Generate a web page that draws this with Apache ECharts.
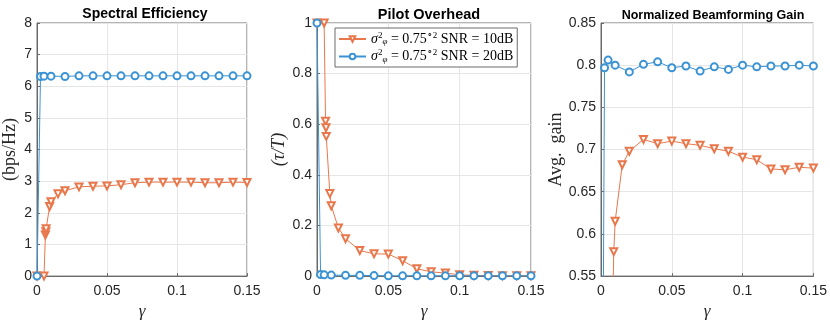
<!doctype html>
<html>
<head>
    <meta charset="UTF-8">
    <title>Spectral efficiency / pilot overhead / beamforming gain</title>
    <script src="https://cdn.jsdelivr.net/npm/echarts@6/dist/echarts.min.js"></script>
</head>
<body style="margin: 0">
<div id="main" style="width: 830px; height: 325px;"></div>
<script type="text/javascript">
    // gamma values (x) for the two curves
    var gammaA = [0, 0.005, 0.006, 0.0063, 0.0065, 0.009, 0.01, 0.015, 0.02, 0.03, 0.04, 0.05, 0.06, 0.07, 0.08, 0.09, 0.10, 0.11, 0.12, 0.13, 0.14, 0.15];
    var gammaB = [0, 0.0025, 0.005, 0.01, 0.02, 0.03, 0.04, 0.05, 0.06, 0.07, 0.08, 0.09, 0.10, 0.11, 0.12, 0.13, 0.14, 0.15];

    // SNR = 10dB (orange)
    var seA = [0, 0, 1.3, 1.4, 1.5, 2.2, 2.35, 2.6, 2.7, 2.82, 2.84, 2.85, 2.89, 2.95, 2.97, 2.97, 2.97, 2.97, 2.95, 2.95, 2.97, 2.96];
    var poA = [1, 1, 0.612, 0.586, 0.552, 0.326, 0.278, 0.19, 0.148, 0.101, 0.088, 0.087, 0.061, 0.029, 0.017, 0.012, 0.005, 0.003, 0.002, 0.001, 0.001, 0.001];
    var gainA = [0, 0, 0.3, 0.32, 0.35, 0.579, 0.615, 0.682, 0.698, 0.712, 0.707, 0.710, 0.707, 0.705, 0.701, 0.698, 0.691, 0.688, 0.677, 0.676, 0.679, 0.678];

    // SNR = 20dB (blue)
    var seB = [0, 6.31, 6.32, 6.32, 6.31, 6.33, 6.33, 6.33, 6.33, 6.33, 6.33, 6.33, 6.33, 6.33, 6.33, 6.33, 6.33, 6.33];
    var poB = [1, 0.006, 0.005, 0.004, 0.003, 0.003, 0.002, 0.001, 0.001, 0.001, 0.001, 0.001, 0.001, 0.001, 0.001, 0.001, 0.001, 0.001];
    var gainB = [0, 0.797, 0.806, 0.800, 0.792, 0.801, 0.804, 0.797, 0.799, 0.793, 0.798, 0.795, 0.800, 0.798, 0.799, 0.799, 0.800, 0.799];

    var titles = ['Spectral Efficiency', 'Pilot Overhead', 'Normalized Beamforming Gain'];
    var yNames = ['(bps/Hz)', '(\u03c4/T)', 'Avg.  gain'];
    var nameA = 'SNR = 10dB';
    var nameB = 'SNR = 20dB';

    function pairs(xs, ys) {
        var out = [];
        for (var i = 0; i < xs.length; i++) {
            out.push([xs[i], ys[i]]);
        }
        return out;
    }

    var orange = '#e8784c';
    var blue = '#3b93d4';
    var axisColor = '#262626';
    var frameColor = '#6a6a6a';
    var lefts = [33, 317, 601];

    var grids = [], xAxes = [], yAxes = [], series = [], titleList = [];
    var yRanges = [[0, 8, 1], [0, 1, 0.2], [0.55, 0.85, 0.05]];
    var dataA = [seA, poA, gainA];
    var dataB = [seB, poB, gainB];
    var titleSizes = [14, 14.5, 12.5];
    var nameGaps = [18, 25, 30];

    for (var k = 0; k < 3; k++) {
        grids.push({
            left: lefts[k], top: 23, width: 214, height: 257,
            show: true, borderColor: frameColor, borderWidth: 1, backgroundColor: '#fff'
        });
        titleList.push({
            text: titles[k],
            left: lefts[k] + 107,
            textAlign: 'center',
            top: k == 2 ? 4 : 2,
            textStyle: {
                fontFamily: 'Liberation Sans',
                fontWeight: 'bold',
                fontSize: titleSizes[k],
                color: '#000'
            }
        });
        xAxes.push({
            gridIndex: k,
            type: 'value',
            min: 0, max: 0.15, interval: 0.05,
            name: '\u03b3',
            nameLocation: 'middle',
            nameGap: 25,
            nameTextStyle: {fontFamily: 'Liberation Serif', fontStyle: 'italic', fontSize: 17, color: axisColor},
            axisLine: {lineStyle: {color: frameColor}},
            axisTick: {inside: true, length: 3, lineStyle: {color: frameColor}},
            axisLabel: {fontFamily: 'Liberation Sans', fontSize: 14, color: axisColor, margin: 8},
            splitLine: {show: true, lineStyle: {color: '#e6e6e6'}}
        });
        yAxes.push({
            gridIndex: k,
            type: 'value',
            min: yRanges[k][0], max: yRanges[k][1], interval: yRanges[k][2],
            name: yNames[k],
            nameLocation: 'middle',
            nameRotate: 90,
            nameGap: nameGaps[k],
            nameTextStyle: {
                fontFamily: 'Liberation Serif',
                fontStyle: k == 1 ? 'italic' : 'normal',
                fontSize: 18, color: axisColor
            },
            axisLine: {lineStyle: {color: frameColor}},
            axisTick: {inside: true, length: 3, lineStyle: {color: frameColor}},
            axisLabel: {fontFamily: 'Liberation Sans', fontSize: 14, color: axisColor, margin: 5},
            splitLine: {show: true, lineStyle: {color: '#e6e6e6'}}
        });
        series.push({
            name: nameA,
            type: 'line',
            xAxisIndex: k, yAxisIndex: k,
            data: pairs(gammaA, dataA[k]),
            symbol: 'emptyTriangle',
            symbolRotate: 180,
            symbolSize: 7,
            color: orange,
            lineStyle: {width: 1, color: orange},
            itemStyle: {color: orange, borderWidth: 0.8},
            clip: true,
            animation: false
        });
        series.push({
            name: nameB,
            type: 'line',
            xAxisIndex: k, yAxisIndex: k,
            data: pairs(gammaB, dataB[k]),
            symbol: 'emptyCircle',
            symbolSize: 7,
            color: blue,
            lineStyle: {width: 1, color: blue},
            itemStyle: {color: blue, borderWidth: 0.8},
            clip: true,
            animation: false
        });
    }

    var myChart = echarts.init(document.getElementById('main'));
    var option = {
        backgroundColor: '#fff',
        title: titleList,
        grid: grids,
        xAxis: xAxes,
        yAxis: yAxes,
        legend: {
            data: [nameA, nameB],
            orient: 'vertical',
            left: 335, top: 28,
            backgroundColor: '#fff',
            borderColor: frameColor,
            borderWidth: 1,
            padding: [3, 4, 3, 3],
            itemGap: 2,
            itemWidth: 27,
            itemHeight: 7,
            formatter: function (name) {
                var snr = name == nameA ? '10dB' : '20dB';
                return '{m|\u03c3}{sup|2}{sub|\u03c6}{t| = 0.75}{sup|\u22182}{t| SNR = ' + snr + '}';
            },
            textStyle: {
                rich: {
                    m: {fontFamily: 'Liberation Serif', fontStyle: 'italic', fontSize: 14, color: '#000'},
                    t: {fontFamily: 'Liberation Serif', fontSize: 14, color: '#000'},
                    sup: {fontFamily: 'Liberation Serif', fontSize: 9, color: '#000', padding: [0, 0, 7, 0]},
                    sub: {fontFamily: 'Liberation Serif', fontStyle: 'italic', fontSize: 9, color: '#000', padding: [6, 0, 0, 0]}
                }
            }
        },
        series: series
    };
    myChart.setOption(option);
</script>
</body>
</html>
